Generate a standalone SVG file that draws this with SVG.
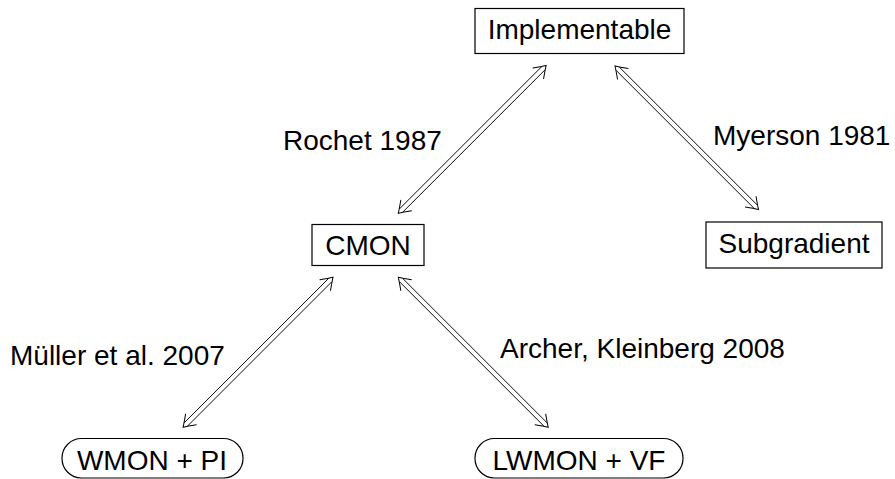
<svg xmlns="http://www.w3.org/2000/svg" width="895" height="479" viewBox="0 0 895 479">
<style>
  text { font-family: "Liberation Sans", Arial, Helvetica, sans-serif; font-size: 28px; fill: #000; }
  .node { fill: #fff; stroke: #000; stroke-width: 1.2; }
  .c { text-anchor: middle; }
  .dl { stroke: #000; stroke-width: 0.9; fill: none; }
  .tip { stroke: #000; stroke-width: 1; fill: none; stroke-linecap: round; }
</style>
<defs>
  <path id="tipL" class="tip" d="M 11,-7.5 Q 4,-2.5 0,0 Q 4,2.5 11,7.5"/>
</defs>
<rect width="895" height="479" fill="#fff"/>

<g id="implementable">
  <rect class="node" x="475" y="8.5" width="209" height="45"/>
  <text class="c" x="579.5" y="38.5">Implementable</text>
</g>
<g id="cmon">
  <rect class="node" x="312" y="224.5" width="112" height="41"/>
  <text class="c" x="368" y="255">CMON</text>
</g>
<g id="subgradient">
  <rect class="node" x="706" y="222" width="176" height="46"/>
  <text class="c" x="794" y="253.3">Subgradient</text>
</g>
<g id="wmonpi">
  <rect class="node" x="62" y="438.5" width="181" height="39.5" rx="19.5" ry="19.5"/>
  <text class="c" x="152" y="470">WMON + PI</text>
</g>
<g id="lwmonvf">
  <rect class="node" x="475" y="438.5" width="208" height="39.5" rx="19.5" ry="19.5"/>
  <text class="c" x="579" y="470">LWMON + VF</text>
</g>

<g id="connectors">
  <g transform="translate(398.3,213.3) rotate(-45)">
    <line class="dl" x1="4" y1="-2.3" x2="205" y2="-2.3"/>
    <line class="dl" x1="4" y1="2.3" x2="205" y2="2.3"/>
    <use href="#tipL"/>
    <use href="#tipL" transform="translate(209,0) scale(-1,1)"/>
  </g>
  <g transform="translate(615,66) rotate(45)">
    <line class="dl" x1="4" y1="-2.3" x2="199" y2="-2.3"/>
    <line class="dl" x1="4" y1="2.3" x2="199" y2="2.3"/>
    <use href="#tipL"/>
    <use href="#tipL" transform="translate(203,0) scale(-1,1)"/>
  </g>
  <g transform="translate(333,277.3) rotate(135)">
    <line class="dl" x1="4" y1="-2.3" x2="208" y2="-2.3"/>
    <line class="dl" x1="4" y1="2.3" x2="208" y2="2.3"/>
    <use href="#tipL"/>
    <use href="#tipL" transform="translate(212,0) scale(-1,1)"/>
  </g>
  <g transform="translate(398.3,277.3) rotate(45)">
    <line class="dl" x1="4" y1="-2.3" x2="208" y2="-2.3"/>
    <line class="dl" x1="4" y1="2.3" x2="208" y2="2.3"/>
    <use href="#tipL"/>
    <use href="#tipL" transform="translate(212,0) scale(-1,1)"/>
  </g>
  <text x="283" y="150">Rochet 1987</text>
  <text x="713" y="145">Myerson 1981</text>
  <text x="10" y="365">Müller et al. 2007</text>
  <text x="500" y="358">Archer, Kleinberg 2008</text>
</g>
</svg>
